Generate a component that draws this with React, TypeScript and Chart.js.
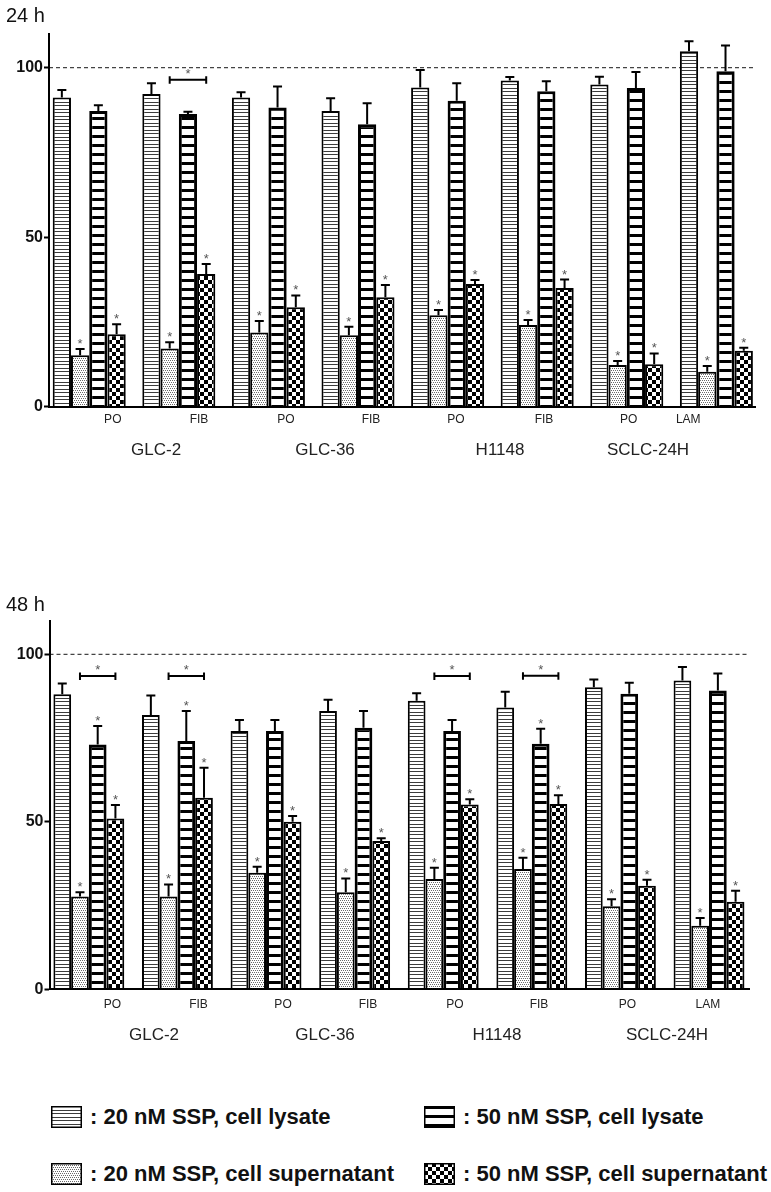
import React, { useEffect, useRef } from 'react';
import { Chart, registerables } from 'chart.js';

Chart.register(...registerables);

const FONT = '"Liberation Sans", Arial, sans-serif';

// ---------- data ----------
const groupIndex = [0, 1, 2, 3, 4, 5, 6, 7];
const yTicks = [0, 50, 100];
const cellLines = ['GLC-2', 'GLC-36', 'H1148', 'SCLC-24H'];
const subLabels = ['PO', 'FIB', 'PO', 'FIB', 'PO', 'FIB', 'PO', 'LAM'];
const seriesNames = [
  '20 nM SSP, cell lysate',
  '20 nM SSP, cell supernatant',
  '50 nM SSP, cell lysate',
  '50 nM SSP, cell supernatant',
];

// 24 h
const lys20_24 = [91.2, 92.2, 91.2, 87.2, 94.1, 96.2, 95.0, 104.8];
const lys20_24err = [2.2, 3.2, 1.5, 3.8, 5.2, 1.0, 2.3, 3.0];
const sup20_24 = [15.2, 17.2, 21.9, 21.1, 27.0, 24.1, 12.3, 10.3];
const sup20_24err = [1.8, 1.8, 3.4, 2.5, 1.5, 1.5, 1.2, 1.7];
const lys50_24 = [87.2, 86.3, 88.2, 83.3, 90.2, 93.0, 94.0, 98.9];
const lys50_24err = [1.7, 0.7, 6.2, 6.2, 5.2, 3.0, 4.7, 7.6];
const sup50_24 = [21.4, 39.1, 29.3, 32.3, 36.2, 35.0, 12.5, 16.5];
const sup50_24err = [2.9, 3.0, 3.5, 3.6, 1.2, 2.5, 3.2, 0.9];
const lys20_24sig = [0, 0, 0, 0, 0, 0, 0, 0];
const sup20_24sig = [1, 1, 1, 1, 1, 1, 1, 1];
const lys50_24sig = [0, 0, 0, 0, 0, 0, 0, 0];
const sup50_24sig = [1, 1, 1, 1, 1, 1, 1, 1];
const bracketGroups24 = [1];
const bracketValues24 = [96.4];
const subLabelPos24 = [0.263, 1.225, 2.194, 3.145, 4.094, 5.076, 6.021, 6.686];
const cellLinePos24 = [0.746, 2.632, 4.585, 6.237];

// 48 h
const lys20_48 = [88.1, 81.9, 77.1, 83.1, 86.1, 84.1, 90.2, 92.2];
const lys20_48err = [3.2, 5.8, 3.3, 3.3, 2.3, 4.7, 2.3, 4.0];
const sup20_48 = [27.7, 27.7, 34.8, 29.0, 32.9, 35.9, 24.8, 19.0];
const sup20_48err = [1.3, 3.6, 1.8, 4.1, 3.4, 3.4, 2.1, 2.3];
const lys50_48 = [73.1, 74.1, 77.1, 78.1, 77.1, 73.3, 88.2, 89.2];
const lys50_48err = [5.5, 9.0, 3.3, 5.0, 3.3, 4.5, 3.3, 5.1];
const sup50_48 = [51.0, 57.2, 50.0, 44.3, 55.2, 55.3, 30.9, 26.1];
const sup50_48err = [4.0, 8.9, 1.7, 0.8, 1.5, 2.6, 1.8, 3.3];
const lys20_48sig = [0, 0, 0, 0, 0, 0, 0, 0];
const sup20_48sig = [1, 1, 1, 1, 1, 1, 1, 1];
const lys50_48sig = [1, 1, 0, 0, 0, 1, 0, 0];
const sup50_48sig = [1, 1, 1, 1, 1, 1, 1, 1];
const bracketGroups48 = [0, 1, 4, 5];
const bracketValues48 = [93.5, 93.5, 93.5, 93.6];
const subLabelPos48 = [0.267, 1.238, 2.192, 3.151, 4.133, 5.081, 6.078, 6.988];
const cellLinePos48 = [0.736, 2.666, 4.607, 6.526];

// ---------- patterns ----------
type Pats = { l20: CanvasPattern; s20: CanvasPattern; l50: CanvasPattern; s50: CanvasPattern };

function tile(ctx: CanvasRenderingContext2D, w: number, h: number, draw: (g: CanvasRenderingContext2D) => void) {
  const c = document.createElement('canvas');
  c.width = w;
  c.height = h;
  const g = c.getContext('2d') as CanvasRenderingContext2D;
  g.fillStyle = '#fff';
  g.fillRect(0, 0, w, h);
  draw(g);
  return ctx.createPattern(c, 'repeat') as CanvasPattern;
}

function makePatterns(ctx: CanvasRenderingContext2D): Pats {
  return {
    l20: tile(ctx, 4, 7, (g) => {
      g.fillStyle = '#3c3c3c';
      g.fillRect(0, 0, 4, 1);
      g.fillRect(0, 4, 4, 1);
    }),
    l50: tile(ctx, 4, 9, (g) => {
      g.fillStyle = '#000';
      g.fillRect(0, 0, 4, 3);
    }),
    s20: tile(ctx, 4, 4, (g) => {
      g.fillStyle = '#6a6a6a';
      g.fillRect(0, 0, 1, 1);
      g.fillRect(2, 0, 1, 1);
      g.fillRect(1, 2, 1, 1);
      g.fillRect(3, 2, 1, 1);
    }),
    s50: tile(ctx, 8, 8, (g) => {
      g.fillStyle = '#000';
      g.fillRect(0, 0, 4, 4);
      g.fillRect(4, 4, 4, 4);
    }),
  };
}

// ---------- chart ----------
type Params = {
  values: number[][];
  errs: number[][];
  sigs: number[][];
  bracketGroups: number[];
  bracketValues: number[];
  subPos: number[];
  grpPos: number[];
  axisLeft: number;
  padTop: number;
  padRight: number;
  padBottom: number;
  xMin: number;
  xMax: number;
  catPct: number;
  subPad: number;
  grpPad: number;
  subH: number;
  grpH: number;
};

const params24: Params = {
  values: [lys20_24, sup20_24, lys50_24, sup50_24],
  errs: [lys20_24err, sup20_24err, lys50_24err, sup50_24err],
  sigs: [lys20_24sig, sup20_24sig, lys50_24sig, sup50_24sig],
  bracketGroups: bracketGroups24,
  bracketValues: bracketValues24,
  subPos: subLabelPos24,
  grpPos: cellLinePos24,
  axisLeft: 49,
  padTop: 33.7,
  padRight: 16,
  padBottom: 17.3,
  xMin: -0.449,
  xMax: 7.431,
  catPct: 0.815,
  subPad: 6.1,
  grpPad: 7.1,
  subH: 26,
  grpH: 30,
};

const params48: Params = {
  values: [lys20_48, sup20_48, lys50_48, sup50_48],
  errs: [lys20_48err, sup20_48err, lys50_48err, sup50_48err],
  sigs: [lys20_48sig, sup20_48sig, lys50_48sig, sup50_48sig],
  bracketGroups: bracketGroups48,
  bracketValues: bracketValues48,
  subPos: subLabelPos48,
  grpPos: cellLinePos48,
  axisLeft: 49.5,
  padTop: 80.8,
  padRight: 21.5,
  padBottom: 30.7,
  xMin: -0.444,
  xMax: 7.457,
  catPct: 0.8,
  subPad: 7.7,
  grpPad: 10.3,
  subH: 26,
  grpH: 34,
};

function overlayPlugin(p: Params) {
  return {
    id: 'overlay',
    beforeDatasetsDraw(chart: any) {
      const { ctx, chartArea } = chart;
      const y = chart.scales.y.getPixelForValue(100);
      ctx.save();
      ctx.strokeStyle = '#444';
      ctx.lineWidth = 1.2;
      ctx.setLineDash([4, 3]);
      ctx.beginPath();
      ctx.moveTo(chartArea.left, y);
      ctx.lineTo(chartArea.right - 2, y);
      ctx.stroke();
      ctx.restore();
    },
    afterDatasetsDraw(chart: any) {
      const { ctx } = chart;
      const ys = chart.scales.y;
      ctx.save();
      chart.data.datasets.forEach((ds: any, di: number) => {
        const meta = chart.getDatasetMeta(di);
        meta.data.forEach((bar: any, i: number) => {
          const v = p.values[di][i];
          const top = ys.getPixelForValue(v + p.errs[di][i]);
          ctx.strokeStyle = '#000';
          ctx.lineWidth = 2;
          ctx.setLineDash([]);
          ctx.beginPath();
          ctx.moveTo(bar.x, bar.y);
          ctx.lineTo(bar.x, top);
          ctx.moveTo(bar.x - 4.5, top);
          ctx.lineTo(bar.x + 4.5, top);
          ctx.stroke();
          if (p.sigs[di][i]) {
            ctx.fillStyle = '#555';
            ctx.font = '13px ' + FONT;
            ctx.textAlign = 'center';
            ctx.textBaseline = 'alphabetic';
            ctx.fillText('*', bar.x, top - 1);
          }
        });
      });
      p.bracketGroups.forEach((g, k) => {
        const x1 = chart.getDatasetMeta(1).data[g].x;
        const x2 = chart.getDatasetMeta(3).data[g].x;
        const y = ys.getPixelForValue(p.bracketValues[k]);
        ctx.strokeStyle = '#000';
        ctx.lineWidth = 2;
        ctx.beginPath();
        ctx.moveTo(x1, y);
        ctx.lineTo(x2, y);
        ctx.moveTo(x1, y - 3.5);
        ctx.lineTo(x1, y + 4);
        ctx.moveTo(x2, y - 3.5);
        ctx.lineTo(x2, y + 4);
        ctx.stroke();
        ctx.fillStyle = '#555';
        ctx.font = '13px ' + FONT;
        ctx.textAlign = 'center';
        ctx.textBaseline = 'alphabetic';
        ctx.fillText('*', (x1 + x2) / 2, y - 2);
      });
      ctx.restore();
    },
  };
}

function buildConfig(p: Params, pats: Pats): any {
  const fills = [pats.l20, pats.s20, pats.l50, pats.s50];
  const widths = [2, 2, 3, 2];
  const labelAxis = (labels: string[], pos: number[], weight: number, pad: number, size: number, h: number) => ({
    type: 'linear',
    position: 'bottom',
    min: p.xMin,
    max: p.xMax,
    bounds: 'data',
    offset: false,
    weight,
    grid: { display: false, drawTicks: false, offset: false },
    border: { display: false },
    ticks: {
      autoSkip: false,
      maxRotation: 0,
      minRotation: 0,
      padding: pad,
      color: '#222',
      font: { family: FONT, size },
      callback: (_v: any, i: number) => labels[i],
    },
    afterBuildTicks: (s: any) => {
      s.ticks = pos.map((v) => ({ value: v }));
    },
    afterFit: (s: any) => {
      s.height = h;
    },
  });
  return {
    type: 'bar',
    data: {
      datasets: p.values.map((vals, di) => ({
        label: seriesNames[di],
        data: vals.map((v, i) => ({ x: groupIndex[i], y: v })),
        backgroundColor: fills[di],
        borderColor: '#000',
        borderWidth: widths[di],
        borderSkipped: 'start',
        categoryPercentage: p.catPct,
        barPercentage: 1,
        xAxisID: 'x',
        yAxisID: 'y',
      })),
    },
    options: {
      responsive: false,
      animation: false,
      events: [],
      layout: { padding: { top: p.padTop, right: p.padRight, bottom: p.padBottom, left: 0 } },
      plugins: {
        legend: { display: false },
        tooltip: { enabled: false },
        title: { display: false },
      },
      scales: {
        x: {
          type: 'linear',
          position: 'bottom',
          min: p.xMin,
          max: p.xMax,
          bounds: 'data',
          offset: false,
          weight: 0,
          grid: { display: false, drawTicks: false, offset: false },
          ticks: { display: false },
          border: { display: true, color: '#000', width: 2, z: 1 },
          afterBuildTicks: (s: any) => {
            s.ticks = groupIndex.map((v) => ({ value: v }));
          },
          afterFit: (s: any) => {
            s.height = 0;
          },
        },
        xSub: labelAxis(subLabels, p.subPos, 1, p.subPad, 12, p.subH),
        xGrp: labelAxis(cellLines, p.grpPos, 2, p.grpPad, 17, p.grpH),
        y: {
          type: 'linear',
          position: 'left',
          min: 0,
          max: 110,
          bounds: 'data',
          grid: {
            display: true,
            drawOnChartArea: false,
            drawTicks: true,
            tickLength: 5,
            tickWidth: 2,
            tickColor: '#000',
            color: '#000',
          },
          border: { display: true, color: '#000', width: 2, z: 1 },
          ticks: {
            padding: 1,
            color: '#111',
            font: { family: FONT, size: 16, weight: 'bold' },
            callback: (v: any) => String(v),
          },
          afterBuildTicks: (s: any) => {
            s.ticks = yTicks.map((v) => ({ value: v }));
          },
          afterFit: (s: any) => {
            s.width = p.axisLeft;
          },
        },
      },
    },
    plugins: [overlayPlugin(p)],
  };
}

function Swatch({ kind }: { kind: keyof Pats }) {
  const ref = useRef<HTMLCanvasElement>(null);
  useEffect(() => {
    const c = ref.current;
    if (!c) return;
    const ctx = c.getContext('2d') as CanvasRenderingContext2D;
    const pats = makePatterns(ctx);
    ctx.clearRect(0, 0, c.width, c.height);
    ctx.fillStyle = pats[kind];
    ctx.fillRect(1, 1, c.width - 2, c.height - 2);
    ctx.strokeStyle = '#000';
    ctx.lineWidth = 1.5;
    ctx.strokeRect(0.75, 0.75, c.width - 1.5, c.height - 1.5);
  }, [kind]);
  return <canvas ref={ref} width={31} height={22} style={{ display: 'block', width: 31, height: 22 }} />;
}

const legendTextStyle: React.CSSProperties = {
  position: 'absolute',
  fontFamily: FONT,
  fontWeight: 'bold',
  fontSize: 22,
  lineHeight: '22px',
  color: '#111',
  whiteSpace: 'nowrap',
};

export default function App() {
  const c1 = useRef<HTMLCanvasElement>(null);
  const c2 = useRef<HTMLCanvasElement>(null);

  useEffect(() => {
    const charts: Chart[] = [];
    if (c1.current) {
      const ctx = c1.current.getContext('2d') as CanvasRenderingContext2D;
      charts.push(new Chart(c1.current, buildConfig(params24, makePatterns(ctx))));
    }
    if (c2.current) {
      const ctx = c2.current.getContext('2d') as CanvasRenderingContext2D;
      charts.push(new Chart(c2.current, buildConfig(params48, makePatterns(ctx))));
    }
    return () => charts.forEach((c) => c.destroy());
  }, []);

  const titleStyle: React.CSSProperties = {
    position: 'absolute',
    fontFamily: FONT,
    fontSize: 20,
    lineHeight: '20px',
    color: '#111',
    whiteSpace: 'nowrap',
  };

  const legendItems: { kind: keyof Pats; name: string; left: number; top: number }[] = [
    { kind: 'l20', name: seriesNames[0], left: 51, top: 1106 },
    { kind: 'l50', name: seriesNames[2], left: 424, top: 1106 },
    { kind: 's20', name: seriesNames[1], left: 51, top: 1163 },
    { kind: 's50', name: seriesNames[3], left: 424, top: 1163 },
  ];

  return (
    <div
      style={{
        position: 'absolute',
        left: 0,
        top: 0,
        width: 771,
        height: 1192,
        background: '#fff',
        overflow: 'hidden',
      }}
    >
      <canvas ref={c1} width={771} height={480} style={{ position: 'absolute', left: 0, top: 0, width: 771, height: 480 }} />
      <canvas ref={c2} width={771} height={540} style={{ position: 'absolute', left: 0, top: 540, width: 771, height: 540 }} />
      <div style={{ ...titleStyle, left: 6, top: 5.4 }}>24 h</div>
      <div style={{ ...titleStyle, left: 6, top: 594.4 }}>48 h</div>
      {legendItems.map((it) => (
        <React.Fragment key={it.kind}>
          <div style={{ position: 'absolute', left: it.left, top: it.top }}>
            <Swatch kind={it.kind} />
          </div>
          <div style={{ ...legendTextStyle, left: it.left + 39, top: it.top }}>: {it.name}</div>
        </React.Fragment>
      ))}
    </div>
  );
}
